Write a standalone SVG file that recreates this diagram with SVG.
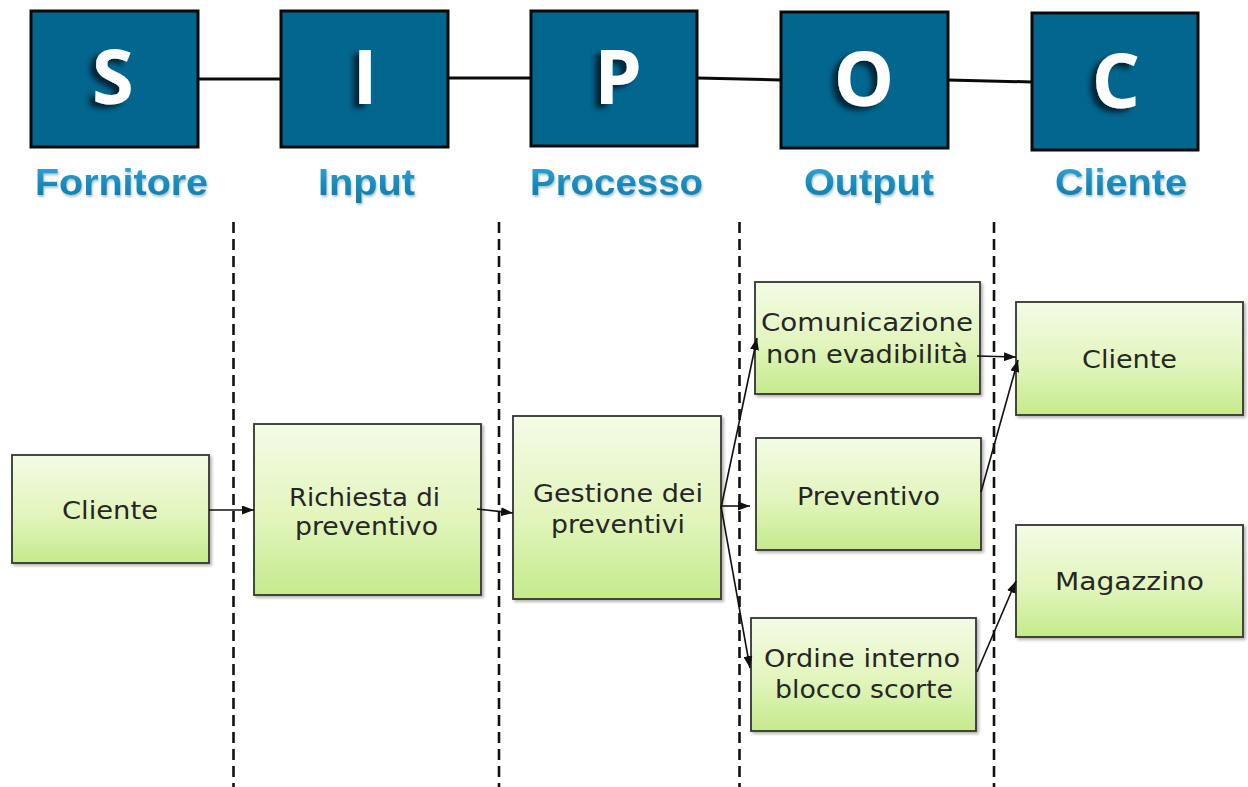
<svg xmlns="http://www.w3.org/2000/svg" width="1248" height="787" viewBox="0 0 1248 787">
<style>
.top rect{fill:#02668f;stroke:#0a0a0a;stroke-width:3}
.letter{font-family:"Open Sans","DejaVu Sans",sans-serif;font-weight:700;font-size:76px;fill:#ffffff;text-anchor:middle;filter:url(#lshadow)}
.label{font-family:"Liberation Sans",Arial,sans-serif;font-weight:700;font-size:36px;fill:url(#blueText);filter:url(#tshadow)}
.box rect{fill:url(#green);stroke:#333333;stroke-width:1.8;filter:url(#shadow)}
.box text{font-family:"DejaVu Sans","Liberation Sans",sans-serif;font-size:24px;fill:#262626}
.dash{stroke:#111;stroke-width:2.6;stroke-dasharray:11 6;fill:none}
.link{stroke:#0a0a0a;stroke-width:3;fill:none}
.arr{stroke:#111;stroke-width:1.6;fill:none;marker-end:url(#ah)}
</style>
<defs>
<linearGradient id="green" x1="0" y1="0" x2="0" y2="1">
<stop offset="0" stop-color="#f4fbe6"/>
<stop offset="0.55" stop-color="#e2f5bd"/>
<stop offset="1" stop-color="#c5ea8c"/>
</linearGradient>
<linearGradient id="blueText" x1="0" y1="0" x2="0" y2="1">
<stop offset="0" stop-color="#3aa9d6"/>
<stop offset="0.5" stop-color="#1a8cbd"/>
<stop offset="1" stop-color="#1479a6"/>
</linearGradient>
<filter id="shadow" x="-10%" y="-10%" width="125%" height="125%">
<feDropShadow dx="2" dy="2" stdDeviation="1.5" flood-color="#000" flood-opacity="0.3"/>
</filter>
<filter id="lshadow" x="-40%" y="-20%" width="180%" height="150%">
<feDropShadow dx="-6" dy="4" stdDeviation="2.5" flood-color="#022538" flood-opacity="1"/>
</filter>
<filter id="tshadow" x="-5%" y="-10%" width="110%" height="130%">
<feDropShadow dx="1" dy="2" stdDeviation="1" flood-color="#0b5678" flood-opacity="0.35"/>
</filter>
<marker id="ah" viewBox="0 0 10 10" refX="10" refY="5" markerWidth="12" markerHeight="9" markerUnits="userSpaceOnUse" orient="auto" preserveAspectRatio="none">
<path d="M0,0 L10,5 L0,10 z" fill="#111"/>
</marker>
</defs>
<rect width="1248" height="787" fill="#ffffff"/>

<g id="top-connectors">
<line class="link" x1="198" y1="79" x2="281" y2="79"/>
<line class="link" x1="448" y1="78" x2="531" y2="78"/>
<line class="link" x1="697" y1="78" x2="781" y2="80"/>
<line class="link" x1="948" y1="80" x2="1032" y2="82"/>
</g>

<g id="sipoc-S" class="top">
<rect x="31" y="11" width="167" height="136"/>
<text class="letter" x="113" y="104">S</text>
<text class="label" x="35" y="195" textLength="173" lengthAdjust="spacingAndGlyphs">Fornitore</text>
</g>
<g id="sipoc-I" class="top">
<rect x="281" y="11" width="167" height="136"/>
<text class="letter" x="365" y="104">I</text>
<text class="label" x="318" y="195" textLength="97" lengthAdjust="spacingAndGlyphs">Input</text>
</g>
<g id="sipoc-P" class="top">
<rect x="531" y="11" width="166" height="135"/>
<text class="letter" x="618" y="104">P</text>
<text class="label" x="530" y="195" textLength="173" lengthAdjust="spacingAndGlyphs">Processo</text>
</g>
<g id="sipoc-O" class="top">
<rect x="781" y="12" width="167" height="136"/>
<text class="letter" x="864" y="106">O</text>
<text class="label" x="804" y="195" textLength="130" lengthAdjust="spacingAndGlyphs">Output</text>
</g>
<g id="sipoc-C" class="top">
<rect x="1032" y="13" width="166" height="137"/>
<text class="letter" x="1116" y="108">C</text>
<text class="label" x="1055" y="195" textLength="132" lengthAdjust="spacingAndGlyphs">Cliente</text>
</g>

<g id="separators">
<line class="dash" x1="233.5" y1="222" x2="233.5" y2="787"/>
<line class="dash" x1="499" y1="222" x2="499" y2="787"/>
<line class="dash" x1="739.5" y1="222" x2="739.5" y2="787"/>
<line class="dash" x1="994" y1="222" x2="994" y2="787"/>
</g>

<g id="node-cliente-fornitore" class="box">
<rect x="12" y="455" width="197" height="108"/>
<text x="62" y="519" textLength="96" lengthAdjust="spacingAndGlyphs">Cliente</text>
</g>
<g id="node-richiesta" class="box">
<rect x="254" y="424" width="227" height="171"/>
<text x="289" y="506" textLength="151" lengthAdjust="spacingAndGlyphs">Richiesta di</text>
<text x="295" y="535" textLength="143" lengthAdjust="spacingAndGlyphs">preventivo</text>
</g>
<g id="node-gestione" class="box">
<rect x="513" y="416" width="208" height="183"/>
<text x="533" y="502" textLength="170" lengthAdjust="spacingAndGlyphs">Gestione dei</text>
<text x="551" y="533" textLength="134" lengthAdjust="spacingAndGlyphs">preventivi</text>
</g>
<g id="node-comunicazione" class="box">
<rect x="755" y="282" width="225" height="112"/>
<text x="761" y="331" textLength="212" lengthAdjust="spacingAndGlyphs">Comunicazione</text>
<text x="766" y="363" textLength="202" lengthAdjust="spacingAndGlyphs">non evadibilità</text>
</g>
<g id="node-preventivo" class="box">
<rect x="756" y="438" width="225" height="112"/>
<text x="797" y="505" textLength="143" lengthAdjust="spacingAndGlyphs">Preventivo</text>
</g>
<g id="node-ordine" class="box">
<rect x="751" y="618" width="225" height="113"/>
<text x="764" y="667" textLength="196" lengthAdjust="spacingAndGlyphs">Ordine interno</text>
<text x="775" y="698" textLength="178" lengthAdjust="spacingAndGlyphs">blocco scorte</text>
</g>
<g id="node-cliente" class="box">
<rect x="1016" y="302" width="227" height="113"/>
<text x="1082" y="368" textLength="95" lengthAdjust="spacingAndGlyphs">Cliente</text>
</g>
<g id="node-magazzino" class="box">
<rect x="1016" y="525" width="227" height="112"/>
<text x="1055" y="590" textLength="149" lengthAdjust="spacingAndGlyphs">Magazzino</text>
</g>

<g id="connectors">
<line class="arr" x1="209" y1="510" x2="254" y2="510"/>
<line class="arr" x1="477" y1="509" x2="513" y2="513"/>
<line class="arr" x1="721" y1="508" x2="757" y2="338"/>
<line class="arr" x1="721" y1="506" x2="750" y2="506"/>
<line class="arr" x1="721" y1="506" x2="750" y2="668"/>
<line class="arr" x1="977" y1="356" x2="1016" y2="357"/>
<line class="arr" x1="981" y1="492" x2="1018" y2="360"/>
<line class="arr" x1="977" y1="672" x2="1016" y2="581"/>
</g>
</svg>
